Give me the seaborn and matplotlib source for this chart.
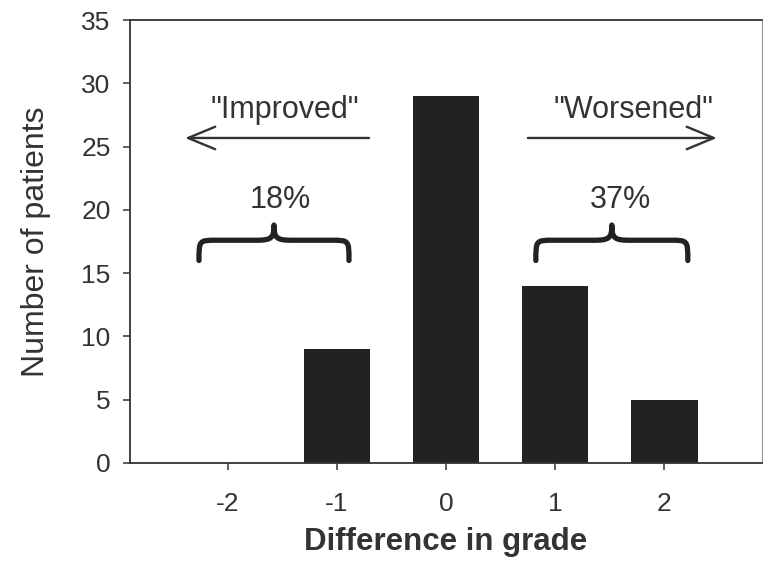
import matplotlib
matplotlib.use("Agg")
import matplotlib.pyplot as plt
from matplotlib.path import Path
from matplotlib.patches import PathPatch
import seaborn as sns
import pandas as pd

# ---- data ----
grades = ["-2", "-1", "0", "1", "2"]
counts = [0, 9, 29, 14, 5]
yticks = [0, 5, 10, 15, 20, 25, 30, 35]
improved_pct = "18%"
worsened_pct = "37%"

sns.set_style("ticks")
plt.rcParams["font.family"] = ["Liberation Sans", "DejaVu Sans"]
TXT = "#333333"

fig = plt.figure(figsize=(7.63, 5.64), dpi=100)
ax = fig.add_axes([0.1704, 0.1791, 0.9983 - 0.1704, 0.9645 - 0.1791])

df = pd.DataFrame({"grade": grades, "count": counts})
sns.barplot(data=df, x="grade", y="count", order=grades, color="#222222",
            saturation=1, width=0.61, edgecolor="none", ax=ax)

ax.set_xlim(-0.895, 4.892)
ax.set_ylim(0, 35)
ax.set_yticks(yticks)
ax.set_yticklabels([str(v) for v in yticks])

for s in ["left", "bottom", "top"]:
    ax.spines[s].set_visible(True)
    ax.spines[s].set_color("#333333")
    ax.spines[s].set_linewidth(1.3)
ax.spines["right"].set_visible(True)
ax.spines["right"].set_color("#999999")
ax.spines["right"].set_linewidth(0.8)

ax.tick_params(axis="y", direction="out", length=5, width=1.1, color="#333333",
               labelsize=19, labelcolor=TXT, pad=9)
ax.tick_params(axis="x", direction="out", length=5, width=1.1, color="#333333",
               labelsize=19, labelcolor=TXT, pad=16)

ax.set_xlabel("Difference in grade", fontsize=22.5, fontweight="bold", color=TXT, labelpad=8)
ax.set_ylabel("Number of patients", fontsize=23, color=TXT, labelpad=22)

# ---- annotations ----
arrow_style = dict(arrowstyle="->,head_length=0.65,head_width=0.27",
                   lw=1.7, color="#333333", mutation_scale=30,
                   shrinkA=0, shrinkB=0)
ax.annotate("", xy=(-0.391, 25.68), xytext=(1.294, 25.68), arrowprops=arrow_style)
ax.annotate("", xy=(4.481, 25.68), xytext=(2.750, 25.68), arrowprops=arrow_style)
ax.text(0.524, 27.9, '"Improved"', fontsize=22, color=TXT, ha="center", va="center")
ax.text(3.722, 27.9, '"Worsened"', fontsize=22, color=TXT, ha="center", va="center")
ax.text(0.479, 20.78, improved_pct, fontsize=22, color=TXT, ha="center", va="center")
ax.text(3.594, 20.78, worsened_pct, fontsize=22, color=TXT, ha="center", va="center")


def brace(x0, x1, yb, yf, yt):
    xm = (x0 + x1) / 2
    r = 0.16
    verts = [
        (x0, yb),
        (x0, yf), (x0, yf), (x0 + r, yf),
        (xm - r, yf),
        (xm - 0.02, yf), (xm, yf + 0.2), (xm, yt),
        (xm, yf + 0.2), (xm + 0.02, yf), (xm + r, yf),
        (x1 - r, yf),
        (x1, yf), (x1, yf), (x1, yb),
    ]
    codes = [Path.MOVETO,
             Path.CURVE4, Path.CURVE4, Path.CURVE4,
             Path.LINETO,
             Path.CURVE4, Path.CURVE4, Path.CURVE4,
             Path.CURVE4, Path.CURVE4, Path.CURVE4,
             Path.LINETO,
             Path.CURVE4, Path.CURVE4, Path.CURVE4]
    p = PathPatch(Path(verts, codes), fill=False, lw=3.8, edgecolor="#222222",
                  capstyle="round", joinstyle="round")
    ax.add_patch(p)


brace(-0.263, 1.111, 16.0, 17.6, 18.8)
brace(2.823, 4.215, 16.0, 17.6, 18.8)

fig.savefig("out.png", dpi=100)
